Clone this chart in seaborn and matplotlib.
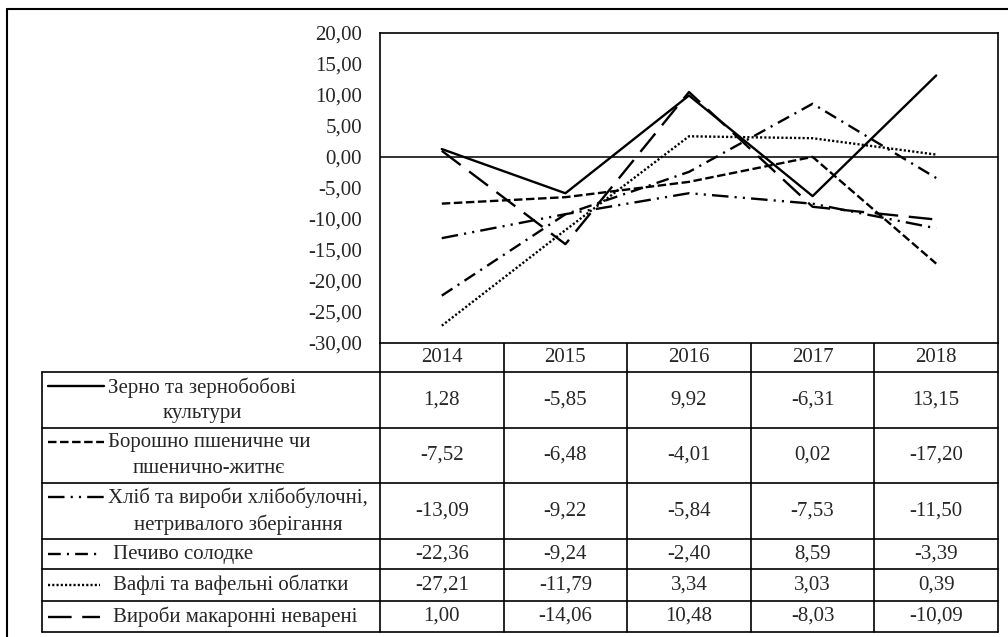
import pandas as pd
import matplotlib.pyplot as plt
import seaborn as sns

years = ['2014', '2015', '2016', '2017', '2018']
series = ['Зерно та зернобобові\nкультури',
          'Борошно пшеничне чи\nпшенично-житнє',
          'Хліб та вироби хлібобулочні,\nнетривалого зберігання',
          'Печиво солодке',
          'Вафлі та вафельні облатки',
          'Вироби макаронні неварені']
zerno = [1.28, -5.85, 9.92, -6.31, 13.15]
boroshno = [-7.52, -6.48, -4.01, 0.02, -17.20]
khlib = [-13.09, -9.22, -5.84, -7.53, -11.50]
pechyvo = [-22.36, -9.24, -2.40, 8.59, -3.39]
vafli = [-27.21, -11.79, 3.34, 3.03, 0.39]
makarony = [1.00, -14.06, 10.48, -8.03, -10.09]
all_values = [zerno, boroshno, khlib, pechyvo, vafli, makarony]

rows = []
for name, vals in zip(series, all_values):
    for y, v in zip(years, vals):
        rows.append({'year': y, 'value': v, 'series': name})
df = pd.DataFrame(rows)

# стилі ліній як у Excel
dash_styles = {series[0]: '',
               series[1]: (3.6, 1.5),
               series[2]: (7, 2.6, 0.9, 2.6, 0.9, 2.6),
               series[3]: (5.4, 2.6, 0.9, 2.6),
               series[4]: (0.9, 0.9),
               series[5]: (10, 4.5)}

sns.set_style('white')
plt.rcParams['font.family'] = ['Liberation Serif', 'DejaVu Serif']
fs = 15
W, H = 1008, 637
lw = 1.7

fig = plt.figure(figsize=(W / 100, H / 100), dpi=100)
ax = fig.add_axes([380 / W, 1 - 343 / H, (998 - 380) / W, (343 - 33) / H])

sns.lineplot(data=df, x='year', y='value', style='series', style_order=series,
             dashes=dash_styles, color='black', linewidth=lw, legend=False,
             sort=False, ax=ax)
ax.axhline(0, color='#222222', lw=1.3, zorder=1)
ax.set_xlim(-0.5, 4.5)
ax.set_ylim(-30, 20)
ax.set_yticks(range(-30, 25, 5))
ax.set_yticklabels([f'{t:.2f}'.replace('.', ',') for t in range(-30, 25, 5)], fontsize=fs)
ax.tick_params(axis='y', length=0, pad=13)
ax.set_xticks([])
ax.set_xlabel('')
ax.set_ylabel('')
for s in ax.spines.values():
    s.set_color('black')
    s.set_linewidth(1.2)

# таблиця даних під графіком
tab = fig.add_axes([0, 0, 1, 1], zorder=-1)
tab.set_xlim(0, W)
tab.set_ylim(H, 0)
tab.axis('off')

x0 = ax.get_position().x0 * W
x1 = ax.get_position().x1 * W
col_w = (x1 - x0) / len(years)
col_edges = [x0 + i * col_w for i in range(len(years) + 1)]
row_edges = [372, 428, 483, 539, 569, 601, 632]
head_top = 343
left = 42

lk = dict(color='black', lw=1.2)
tab.plot([7, W], [9, 9], color='black', lw=1.5)
tab.plot([7, 7], [9, H], color='black', lw=1.5)
for xe in col_edges:
    tab.plot([xe, xe], [head_top, row_edges[-1]], **lk)
tab.plot([left, left], [row_edges[0], row_edges[-1]], **lk)
for ye in row_edges:
    tab.plot([left, x1], [ye, ye], **lk)

for i, y in enumerate(years):
    tab.text(col_edges[i] + col_w / 2, (head_top + row_edges[0]) / 2, y,
             ha='center', va='center', fontsize=fs)

for r, (name, vals) in enumerate(zip(series, all_values)):
    yc = (row_edges[r] + row_edges[r + 1]) / 2
    two = '\n' in name
    ky = yc - 14 if two else yc
    kx_end = 104 if two else 100
    ln, = tab.plot([48, kx_end], [ky, ky], color='black', lw=lw)
    if dash_styles[name]:
        ln.set_dashes(dash_styles[name])
    tab.text(108 if two else 113, yc, name, ha='left', va='center',
             multialignment='center', fontsize=fs, linespacing=1.45)
    for i, v in enumerate(vals):
        tab.text(col_edges[i] + col_w / 2, yc, f'{v:.2f}'.replace('.', ','),
                 ha='center', va='center', fontsize=fs)

fig.savefig('out.png', dpi=100)
